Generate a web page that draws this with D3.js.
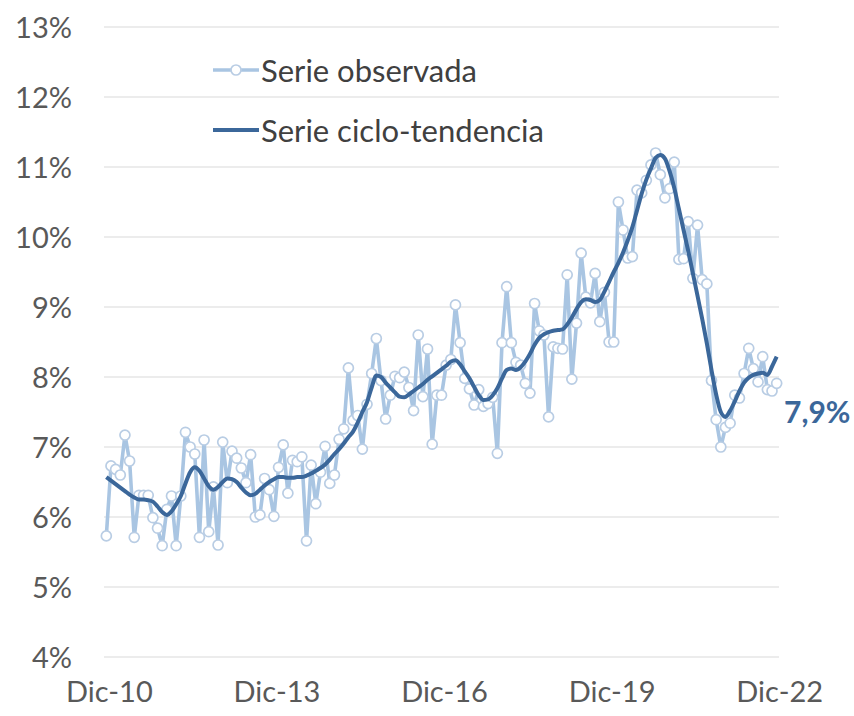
<!DOCTYPE html>
<html><head><meta charset="utf-8">
<script src="https://cdn.jsdelivr.net/npm/d3@7"></script>
<style>
html,body{margin:0;padding:0;background:#fff;}
svg{display:block;font-family:Lato,"Open Sans",sans-serif;}
</style></head>
<body><svg id="c" width="854" height="716"></svg>
<script>
// Monthly series, Dic-10 .. Dic-22 (145 months)
const observed = [5.73,6.73,6.68,6.60,7.17,6.80,5.71,6.31,6.31,6.31,5.99,5.84,5.59,6.11,6.30,5.59,6.30,7.21,7.00,6.90,
5.71,7.10,5.79,6.43,5.60,7.07,6.49,6.94,6.84,6.70,6.49,6.89,6.00,6.03,6.55,6.39,6.01,6.71,7.03,6.34,
6.81,6.79,6.86,5.66,6.74,6.19,6.64,7.01,6.48,6.60,7.11,7.26,8.13,7.38,7.45,6.97,7.61,8.05,8.55,7.95,
7.40,7.74,8.01,7.99,8.07,7.85,7.52,8.60,7.72,8.40,7.04,7.74,7.74,8.17,8.25,9.03,8.49,7.98,7.83,7.60,
7.82,7.58,7.62,7.71,6.91,8.49,9.29,8.49,8.21,8.17,7.91,7.77,9.05,8.66,8.60,7.43,8.43,8.41,8.40,9.46,
7.97,8.77,9.77,9.14,9.06,9.48,8.79,9.21,8.50,8.50,10.50,10.10,9.70,9.72,10.67,10.63,10.81,11.03,11.20,10.89,
10.56,10.69,11.07,9.68,9.69,10.22,9.41,10.17,9.39,9.33,7.95,7.39,7.00,7.28,7.34,7.74,7.70,8.05,8.41,8.12,
7.93,8.29,7.82,7.80,7.91];
const trend = [6.57,6.52,6.47,6.42,6.37,6.32,6.28,6.25,6.25,6.24,6.22,6.15,6.07,6.03,6.08,6.18,6.30,6.48,6.64,6.71,
6.66,6.55,6.44,6.39,6.43,6.50,6.55,6.54,6.50,6.42,6.35,6.31,6.33,6.39,6.45,6.50,6.54,6.57,6.57,6.56,
6.56,6.57,6.57,6.59,6.62,6.66,6.70,6.75,6.82,6.90,6.97,7.05,7.14,7.22,7.35,7.50,7.64,7.85,8.02,8.00,
7.92,7.85,7.78,7.72,7.71,7.75,7.80,7.85,7.90,7.96,8.01,8.06,8.11,8.16,8.22,8.24,8.18,8.08,7.98,7.86,
7.74,7.67,7.68,7.74,7.84,7.98,8.10,8.12,8.10,8.14,8.22,8.33,8.46,8.56,8.61,8.64,8.66,8.67,8.68,8.75,
8.85,8.97,9.07,9.11,9.10,9.07,9.10,9.22,9.36,9.50,9.63,9.78,9.95,10.14,10.38,10.62,10.82,10.98,11.13,11.17,
11.12,10.94,10.70,10.40,10.10,9.80,9.48,9.16,8.83,8.48,8.10,7.75,7.50,7.43,7.52,7.65,7.80,7.92,7.99,8.03,
8.05,8.06,8.03,8.15,8.29];
const yTicks = [4,5,6,7,8,9,10,11,12,13];
const xTickIndex = [0,36,72,108,144];
const xTickLabels = ["Dic-10","Dic-13","Dic-16","Dic-19","Dic-22"];
const legendLabels = ["Serie observada","Serie ciclo-tendencia"];
const lastLabel = "7,9%";

const svg = d3.select("#c");
const pLeft = 104, pRight = 779, pTop = 27, pBottom = 657;
const idx = d3.range(observed.length);
const x = d3.scaleBand().domain(idx).range([pLeft, pRight]);
const xc = i => x(i) + x.bandwidth()/2;
const y = d3.scaleLinear().domain([4,13]).range([pBottom, pTop]);

const lightLine = "#a9c5e2", lightMark = "#b9cde4", dark = "#3b679a", txt = "#595959";
const ff = "Lato, 'Open Sans', sans-serif";

// grid
svg.append("g").selectAll("line").data(yTicks).join("line")
  .attr("x1", pLeft).attr("x2", pRight)
  .attr("y1", d => y(d)).attr("y2", d => y(d))
  .attr("stroke", "#d9d9d9").attr("stroke-width", 1.2);

// y axis labels
const yAxis = d3.axisLeft(y).tickValues(yTicks).tickFormat(d => d + "%").tickSize(0).tickPadding(0);
const gy = svg.append("g").attr("transform", `translate(72,1)`).call(yAxis);
gy.select(".domain").remove();
gy.selectAll("text").attr("font-size", 29).attr("fill", txt).attr("font-family", ff);

// x axis labels
const xAxis = d3.axisBottom(x).tickValues(xTickIndex).tickFormat((d, k) => xTickLabels[k]).tickSize(0).tickPadding(0);
const gx = svg.append("g").attr("transform", `translate(3,${681})`).call(xAxis);
gx.select(".domain").remove();
gx.selectAll("text").attr("font-size", 29).attr("fill", txt).attr("font-family", ff);

// observed
svg.append("path").datum(observed)
  .attr("fill", "none").attr("stroke", lightLine).attr("stroke-width", 3.6).attr("stroke-linejoin", "round")
  .attr("d", d3.line().x((d,i) => xc(i)).y(d => y(d)));
svg.append("g").selectAll("circle").data(observed).join("circle")
  .attr("cx", (d,i) => xc(i)).attr("cy", d => y(d)).attr("r", 5)
  .attr("fill", "#fff").attr("stroke", lightMark).attr("stroke-width", 1.7);

// trend
svg.append("path").datum(trend)
  .attr("fill", "none").attr("stroke", dark).attr("stroke-width", 4).attr("stroke-linejoin", "round")
  .attr("d", d3.line().curve(d3.curveMonotoneX).x((d,i) => xc(i)).y(d => y(d)));

// last value label
svg.append("text").attr("x", 784).attr("y", y(7.9) + 39).text(lastLabel)
  .attr("font-size", 30).attr("font-weight", "bold").attr("fill", dark).attr("font-family", ff);

// legend
const lg = svg.append("g");
lg.append("line").attr("x1", 213).attr("x2", 259).attr("y1", 70).attr("y2", 70)
  .attr("stroke", lightLine).attr("stroke-width", 3.6);
lg.append("circle").attr("cx", 236).attr("cy", 70).attr("r", 5)
  .attr("fill", "#fff").attr("stroke", lightMark).attr("stroke-width", 1.7);
lg.append("text").attr("x", 261).attr("y", 71).attr("dy", "0.35em").text(legendLabels[0])
  .attr("font-size", 31).attr("fill", "#404040").attr("font-family", ff);
lg.append("line").attr("x1", 213).attr("x2", 259).attr("y1", 130).attr("y2", 130)
  .attr("stroke", dark).attr("stroke-width", 4);
lg.append("text").attr("x", 261).attr("y", 131).attr("dy", "0.35em").text(legendLabels[1])
  .attr("font-size", 31).attr("fill", "#404040").attr("font-family", ff);
</script></body></html>
